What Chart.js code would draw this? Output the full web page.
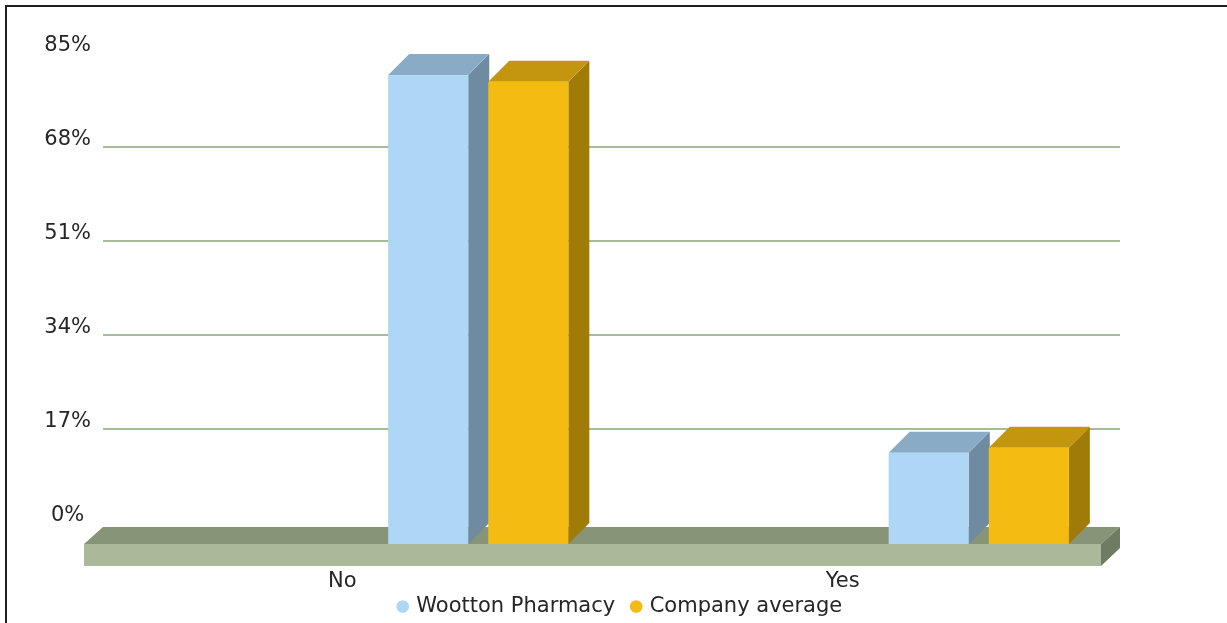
<!DOCTYPE html>
<html>
<head>
<meta charset="utf-8">
<script src="https://cdn.jsdelivr.net/npm/chart.js@4/dist/chart.umd.min.js"></script>
<style>
  html, body { margin: 0; padding: 0; background: #fff; overflow: hidden; }
  #frame {
    position: absolute; left: 5px; top: 5px; width: 1300px; height: 700px;
    border: 2px solid #1e1e1e;
  }
  #wrap { position: absolute; left: 0; top: 0; width: 1227px; height: 623px; }
</style>
</head>
<body>
<div id="frame"></div>
<div id="wrap"><canvas id="chart" width="1227" height="623"></canvas></div>
<script>
// data
const categories = ["No", "Yes"];
const woottonValues = [84.8, 16.5];
const companyValues = [83.6, 17.4];
const yMax = 85;
const yStep = 17;

// 3D look
const BAR_DX = 21, BAR_DY = 21;
const FLOOR_DX = 19, FLOOR_DY = 17, FLOOR_H = 22, FLOOR_OVER = 8;
const BAR_SHIFT = 136;
const XLABEL_BASELINE = 43; // below the front edge of the floor top

const palette = {
  wootton: { front: "#aed6f5", top: "#8aabc6", side: "#6f8ba2" },
  company: { front: "#f4bb12", top: "#c4950e", side: "#a07b08" },
  floor: { front: "#abb99a", top: "#879478", side: "#6f7b63" },
  grid: "#a9bc99",
  text: "#262626",
};

const FONT_FAMILY = "'DejaVu Sans', Verdana, sans-serif";
const FONT_SIZE = 21;

function poly(ctx, pts, color) {
  ctx.beginPath();
  ctx.moveTo(pts[0][0], pts[0][1]);
  for (let i = 1; i < pts.length; i++) ctx.lineTo(pts[i][0], pts[i][1]);
  ctx.closePath();
  ctx.fillStyle = color;
  ctx.fill();
}

const threeD = {
  id: "threeD",
  beforeDatasetsDraw(chart) {
    const { ctx, chartArea: a, scales } = chart;
    const y = scales.y;
    ctx.save();

    // back wall grid lines
    const gl = a.left - FLOOR_OVER + FLOOR_DX;
    const gr = a.right + FLOOR_OVER + FLOOR_DX;
    ctx.strokeStyle = palette.grid;
    ctx.lineWidth = 2;
    y.ticks.forEach((t) => {
      if (t.value <= 0 || t.value >= yMax) return;
      const py = Math.round(y.getPixelForValue(t.value)) - BAR_DY;
      ctx.beginPath();
      ctx.moveTo(gl, py);
      ctx.lineTo(gr, py);
      ctx.stroke();
    });

    // floor
    const base = y.getPixelForValue(0);
    const fl = a.left - FLOOR_OVER;
    const fr = a.right + FLOOR_OVER;
    poly(ctx, [[fl, base], [fr, base], [fr + FLOOR_DX, base - FLOOR_DY], [fl + FLOOR_DX, base - FLOOR_DY]], palette.floor.top);
    poly(ctx, [[fr, base], [fr + FLOOR_DX, base - FLOOR_DY], [fr + FLOOR_DX, base - FLOOR_DY + FLOOR_H - 1], [fr, base + FLOOR_H]], palette.floor.side);
    ctx.fillStyle = palette.floor.front;
    ctx.fillRect(fl, base, fr - fl, FLOOR_H);

    // bars
    const cols = [palette.wootton, palette.company];
    chart.data.datasets.forEach((ds, i) => {
      const c = cols[i];
      chart.getDatasetMeta(i).data.forEach((el) => {
        const x = el.x + BAR_SHIFT;
        const w = el.width;
        const l = x - w / 2, r = x + w / 2;
        const top = el.y, b = el.base;
        poly(ctx, [[r, top], [r + BAR_DX, top - BAR_DY], [r + BAR_DX, b - BAR_DY], [r, b]], c.side);
        poly(ctx, [[l, top], [r, top], [r + BAR_DX, top - BAR_DY], [l + BAR_DX, top - BAR_DY]], c.top);
        ctx.fillStyle = c.front;
        ctx.fillRect(l, top, w, b - top);
      });
    });

    ctx.restore();
    return false;
  },
  afterDraw(chart) {
    // category labels under the floor (drawn here so the legend can sit close)
    const { ctx, chartArea: a, scales } = chart;
    const x = scales.x;
    ctx.save();
    ctx.font = FONT_SIZE + "px " + FONT_FAMILY;
    ctx.fillStyle = palette.text;
    ctx.textAlign = "center";
    ctx.textBaseline = "alphabetic";
    x.ticks.forEach((t, i) => {
      ctx.fillText(x.getLabelForValue(t.value), x.getPixelForTick(i), a.bottom + XLABEL_BASELINE);
    });
    ctx.restore();
  },
};

Chart.defaults.font.family = FONT_FAMILY;
Chart.defaults.font.size = FONT_SIZE;
Chart.defaults.color = palette.text;

new Chart(document.getElementById("chart"), {
  type: "bar",
  data: {
    labels: categories,
    datasets: [
      {
        label: "Wootton Pharmacy",
        data: woottonValues,
        backgroundColor: palette.wootton.front,
        categoryPercentage: 0.4,
        barPercentage: 0.8,
      },
      {
        label: "Company average",
        data: companyValues,
        backgroundColor: palette.company.front,
        categoryPercentage: 0.4,
        barPercentage: 0.8,
      },
    ],
  },
  options: {
    responsive: false,
    animation: false,
    devicePixelRatio: 1,
    layout: { padding: { left: 15, right: 0, top: 74, bottom: -4 } },
    scales: {
      x: {
        grid: { display: false },
        border: { display: false },
        ticks: { display: false },
        afterFit: (s) => { s.height = 34; },
      },
      y: {
        min: 0,
        max: yMax,
        grid: { display: false, drawTicks: false },
        border: { display: false },
        ticks: {
          stepSize: yStep,
          padding: 1,
          crossAlign: "center",
          labelOffset: -28,
          callback: (v) => v + "%",
        },
        afterFit: (s) => { s.width = 77; },
      },
      yRight: {
        position: "right",
        grid: { display: false },
        border: { display: false },
        ticks: { display: false },
        afterFit: (s) => { s.width = 134; },
      },
    },
    plugins: {
      legend: {
        position: "bottom",
        labels: {
          usePointStyle: true,
          pointStyle: "circle",
          boxWidth: 6,
          boxHeight: 9,
          padding: 18,
        },
      },
      tooltip: { enabled: false },
    },
  },
  plugins: [threeD],
});
</script>
</body>
</html>
